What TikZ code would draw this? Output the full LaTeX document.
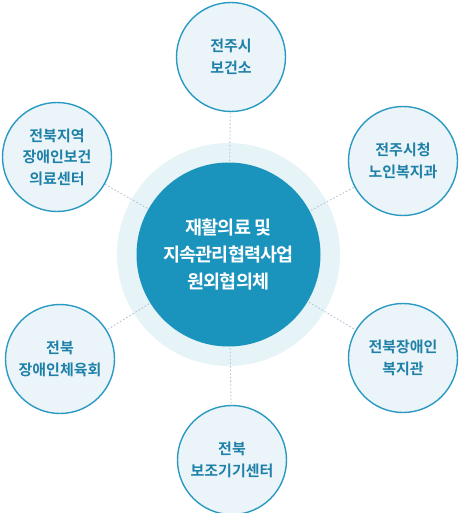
\documentclass[tikz,border=0pt]{standalone}
\usepackage{fontspec}
\setmainfont{Noto Sans CJK KR}[BoldFont={Noto Sans CJK KR Bold}]
\newfontfamily\coretight{Noto Sans CJK KR Bold}[LetterSpace=-4]
\definecolor{halo}{HTML}{E6F4F8}
\definecolor{core}{HTML}{1A93BD}
\definecolor{satfill}{HTML}{EBF5F9}
\definecolor{satline}{HTML}{2A9AC3}
\definecolor{sattext}{HTML}{1F80A8}
\definecolor{dotc}{HTML}{B7C2D6}
\begin{document}
\begin{tikzpicture}[x=1pt,y=-1pt,
  sat/.style={circle,draw=satline,line width=1.4pt,fill=satfill,minimum size=109pt,inner sep=0pt,
    text=sattext,font=\fontsize{15}{21.5}\selectfont\bfseries,align=center},
  dotline/.style={draw=dotc,line width=0.9pt,dash pattern=on 1.6pt off 2pt},
  corebox/.style={circle,fill=core,minimum size=184pt,inner sep=0pt,text=white,
    font=\coretight\fontsize{18.5}{27}\selectfont,align=center},
  halobox/.style={circle,fill=halo,minimum size=223pt,inner sep=0pt}]
\useasboundingbox (0,0) rectangle (461,513);
\node[halobox] (h) at (228.5,254.5) {};
\node[sat] (s1) at (231,57) {전주시\\보건소};
\node[sat] (s2) at (403,161) {전주시청\\노인복지과};
\node[sat] (s3) at (403,358) {전북장애인\\복지관};
\node[sat] (s4) at (232,460) {전북\\보조기기센터};
\node[sat] (s5) at (60,359) {전북\\장애인체육회};
\node[sat] (s6) at (57,157) {전북지역\\장애인보건\\의료센터};
\foreach \s in {s1,s2,s3,s4,s5,s6} \draw[dotline] (h.center) -- (\s);
\node[corebox] (c) at (h.center) {재활의료 및\\지속관리협력사업\\원외협의체};
\end{tikzpicture}
\end{document}
